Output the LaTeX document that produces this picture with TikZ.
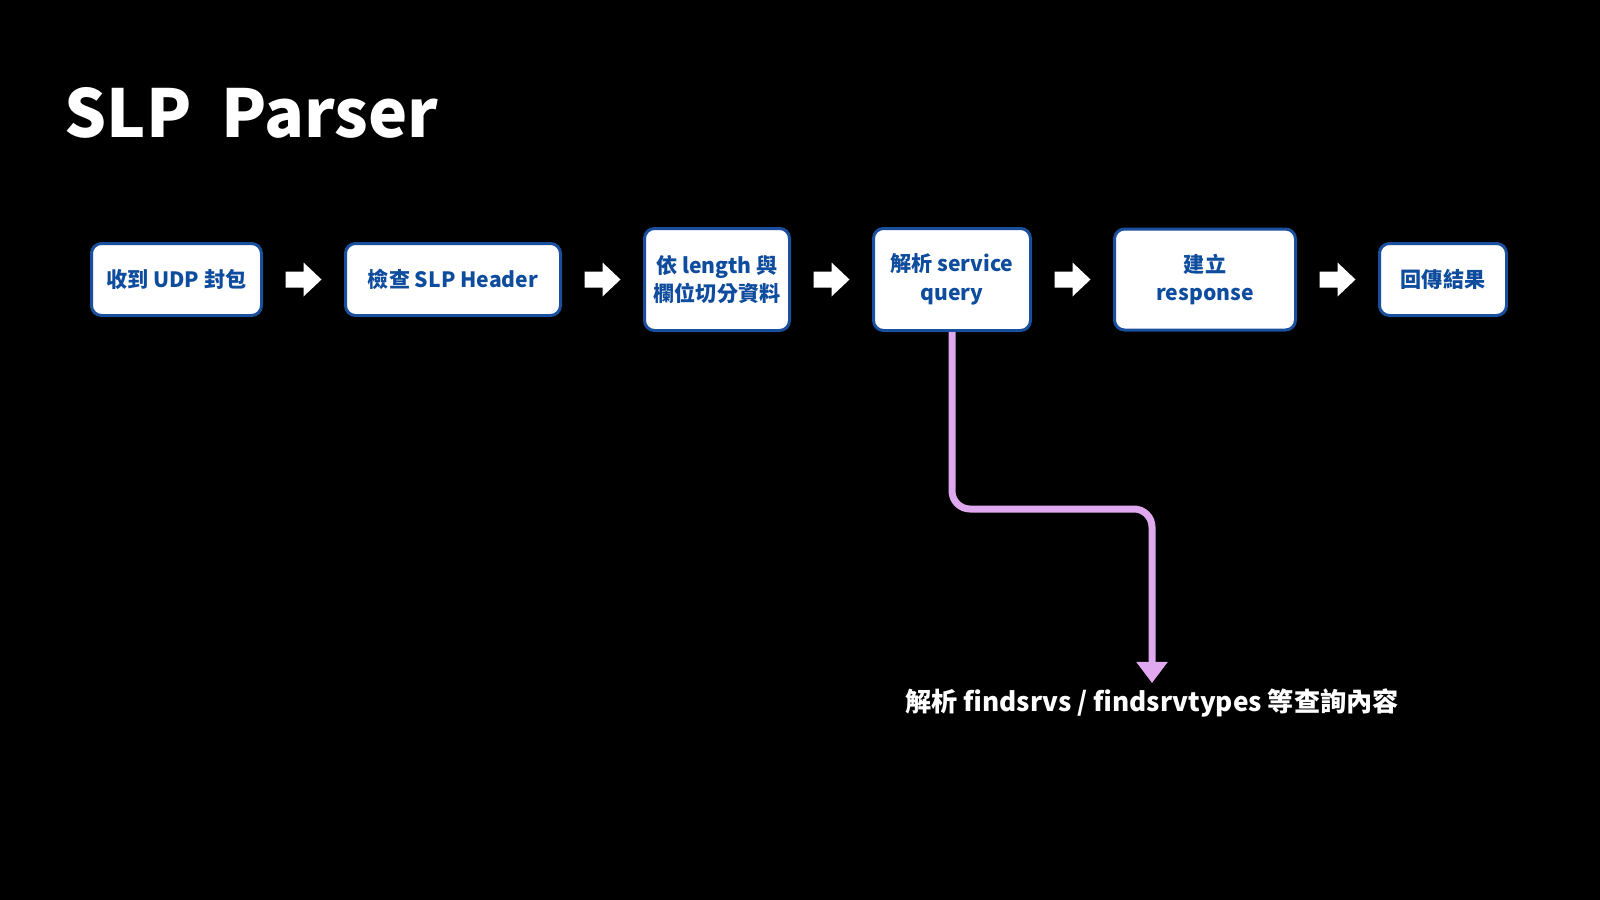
\documentclass[tikz,border=0pt]{standalone}
\usepackage{fontspec}
\newfontfamily\cjk{Noto Sans CJK TC}
\usetikzlibrary{positioning,calc,arrows.meta}
\definecolor{boxblue}{HTML}{1A4F9E}
\definecolor{textblue}{HTML}{0E4C9E}
\definecolor{querypink}{HTML}{E0A8EE}
\newlength\unitpx
\setlength\unitpx{0.025cm}
\tikzset{
  stepbox/.style={draw=boxblue, line width=3\unitpx, fill=white, rounded corners=10\unitpx,
    text=textblue, font=\cjk\bfseries\fontsize{15}{20.6}\selectfont, align=center, inner sep=0pt},
  flowarrow/.style={fill=white},
  query/.style={draw=querypink, line width=7\unitpx, rounded corners=18\unitpx, shorten >=5\unitpx,
    -{Triangle[length=0.525cm,width=0.75cm]}}
}
\begin{document}
\begin{tikzpicture}[x=0.025cm, y=-0.025cm, node distance=81\unitpx]

\fill[black] (0,0) rectangle (1600,900);
\useasboundingbox (0,0) rectangle (1600,900);

\node[anchor=base west, inner sep=0pt, text=white, font=\cjk\bfseries\fontsize{47}{56}\selectfont] (title) at (64,138) {SLP\ \ Parser};

\node[stepbox, minimum width=170\unitpx, minimum height=72\unitpx] (recv) at (176.5,279.5) {收到 UDP 封包};
\node[stepbox, minimum width=215\unitpx, minimum height=72\unitpx, right=of recv] (check) {檢查 SLP Header};
\node[stepbox, minimum width=145\unitpx, minimum height=102\unitpx, right=of check] (split) {依\ length 與\\欄位切分資料};
\node[stepbox, minimum width=157\unitpx, minimum height=102\unitpx, right=of split] (parse) {解析 service\\query};
\node[stepbox, minimum width=181\unitpx, minimum height=101\unitpx, right=of parse] (build) {建立\\response};
\node[stepbox, minimum width=127\unitpx, minimum height=72\unitpx, right=of build] (reply) {回傳結果};

\node[anchor=north, inner sep=0pt, text=white, font=\cjk\bfseries\fontsize{18.6}{22}\selectfont] (detail) at (1152,688) {解析 findsrvs / findsrvtypes 等查詢內容};

\foreach \a/\b in {recv/check,check/split,split/parse,parse/build,build/reply}
  \fill[flowarrow] ($(\a.east)!0.5!(\b.west)$) ++(-18,-8) -- ++(18,0) -- ++(0,-9) -- ++(18,17)
    -- ++(-18,17) -- ++(0,-9) -- ++(-18,0) -- cycle;

\draw[query] (parse.south) -- ++(0,177) -| (detail.north);

\end{tikzpicture}
\end{document}
